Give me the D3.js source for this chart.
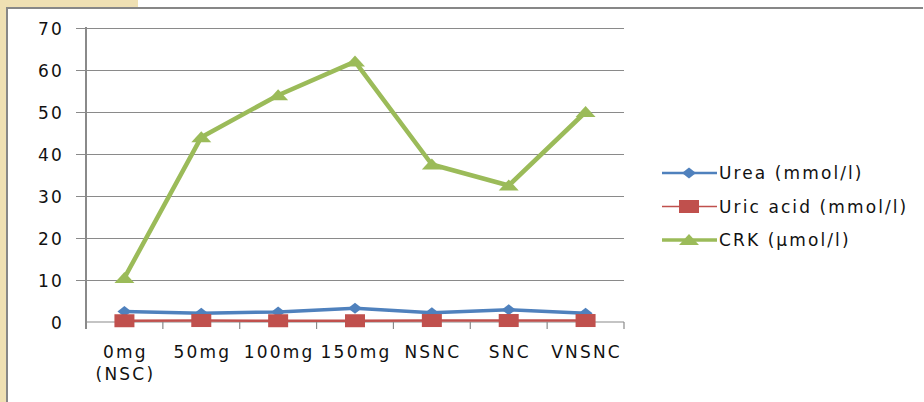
<!DOCTYPE html>
<html>
<head>
<meta charset="utf-8">
<script src="https://cdn.jsdelivr.net/npm/d3@7"></script>
<style>
	body { margin: 0; background: #fff; }
	svg text { font-family: 'DejaVu Sans', sans-serif; fill: #111; }
	.axis-label { font-size: 17px; letter-spacing: 2.2px; }
	.legend-label { font-size: 17px; letter-spacing: 2.1px; }
</style>
</head>
<body>
<div id="chart"></div>
<script>
// Data
var categories = ['0mg|(NSC)', '50mg', '100mg', '150mg', 'NSNC', 'SNC', 'VNSNC'];
var urea = [2.5, 2.1, 2.4, 3.3, 2.2, 2.9, 2.1];
var uricAcid = [0.3, 0.35, 0.3, 0.3, 0.35, 0.35, 0.35];
var crk = [10.5, 44, 54, 62, 37.5, 32.5, 50];
var yTicks = [0, 10, 20, 30, 40, 50, 60, 70];

var series = [
	{ name: 'Urea (mmol/l)', values: urea, color: '#4F81BD', width: 3.5, marker: 'diamond' },
	{ name: 'Uric acid (mmol/l)', values: uricAcid, color: '#C0504D', width: 2.5, marker: 'square' },
	{ name: 'CRK (\u00b5mol/l)', values: crk, color: '#9BBB59', width: 4.5, marker: 'triangle' }
];

var width = 924;
var height = 402;
var plot = { left: 86, right: 624, top: 28, bottom: 322 };

var svg = d3.select('#chart')
	.append('svg')
	.attr('width', width)
	.attr('height', height);

// Slide background bits and frame
svg.append('rect').attr('x', 0).attr('y', 0).attr('width', 7).attr('height', height).attr('fill', '#EFE0B3');
svg.append('rect').attr('x', 0).attr('y', 0).attr('width', 138).attr('height', 7).attr('fill', '#EFE0B3');
svg.append('rect').attr('x', 6).attr('y', 7).attr('width', 917).attr('height', 2).attr('fill', '#878787');
svg.append('rect').attr('x', 6).attr('y', 7).attr('width', 2).attr('height', height - 7).attr('fill', '#878787');

/*
 * Scales
 */
var xScale = d3.scaleBand()
	.domain(categories)
	.range([plot.left, plot.right]);

var yScale = d3.scaleLinear()
	.domain([0, 70])
	.range([plot.bottom, plot.top]);

// gridlines
svg.append('g')
	.attr('class', 'grid')
	.attr('transform', 'translate(' + plot.right + ',0)')
	.call(d3.axisLeft(yScale).tickValues(yTicks.slice(1)).tickSize(plot.right - 76).tickFormat(''))
	.call(function(g) {
		g.select('.domain').remove();
		g.selectAll('line').attr('stroke', '#8A8A8A').attr('stroke-width', 1.2);
	});

// y axis
svg.append('g')
	.attr('class', 'y axis')
	.attr('transform', 'translate(' + plot.left + ',0)')
	.call(d3.axisLeft(yScale).tickValues(yTicks).tickSize(0).tickPadding(22))
	.call(function(g) {
		g.select('.domain').remove();
		g.selectAll('text').attr('class', 'axis-label').attr('font-family', null).attr('font-size', null).attr('dy', '0.36em');
	});

svg.append('line')
	.attr('x1', plot.left).attr('x2', plot.left)
	.attr('y1', plot.top - 1).attr('y2', plot.bottom + 7)
	.attr('stroke', '#8A8A8A').attr('stroke-width', 2);

// x axis
svg.append('line')
	.attr('x1', plot.left).attr('x2', plot.right)
	.attr('y1', plot.bottom).attr('y2', plot.bottom)
	.attr('stroke', '#8A8A8A').attr('stroke-width', 1.2);

var edges = categories.map(function(c) { return xScale(c); }).concat([plot.right]);
svg.append('g')
	.selectAll('line')
	.data(edges.slice(1))
	.enter()
	.append('line')
	.attr('x1', function(d) { return d; })
	.attr('x2', function(d) { return d; })
	.attr('y1', plot.bottom)
	.attr('y2', plot.bottom + 7)
	.attr('stroke', '#8A8A8A')
	.attr('stroke-width', 1.2);

var xLabels = svg.append('g')
	.selectAll('text')
	.data(categories)
	.enter()
	.append('text')
	.attr('class', 'axis-label')
	.attr('text-anchor', 'middle')
	.attr('x', function(d) { return xScale(d) + xScale.bandwidth() / 2 + 1; })
	.attr('y', 358);

xLabels.each(function(d) {
	var parts = d.split('|');
	var el = d3.select(this);
	parts.forEach(function(p, i) {
		el.append('tspan')
			.attr('x', el.attr('x'))
			.attr('dy', i === 0 ? 0 : 22)
			.text(p);
	});
});

/*
 * Markers
 */
var drawMarker = function(sel, type, color) {
	if (type === 'diamond') {
		sel.append('path').attr('d', 'M-7,0L0,-5.5L7,0L0,5.5Z').attr('fill', color);
	} else if (type === 'square') {
		sel.append('rect').attr('x', -10).attr('y', -6.5).attr('width', 20).attr('height', 13).attr('fill', color);
	} else {
		sel.append('path').attr('d', 'M-10,5L0,-6L10,5Z').attr('fill', color);
	}
};

var line = d3.line()
	.x(function(d, i) { return xScale(categories[i]) + xScale.bandwidth() / 2; })
	.y(function(d) { return yScale(d); });

series.forEach(function(s) {
	var g = svg.append('g').attr('class', 'series');
	g.append('path')
		.attr('d', line(s.values))
		.attr('fill', 'none')
		.attr('stroke', s.color)
		.attr('stroke-width', s.width)
		.attr('stroke-linejoin', 'round');

	g.selectAll('g.marker')
		.data(s.values)
		.enter()
		.append('g')
		.attr('class', 'marker')
		.attr('transform', function(d, i) {
			return 'translate(' + (xScale(categories[i]) + xScale.bandwidth() / 2) + ',' + yScale(d) + ')';
		})
		.each(function() { drawMarker(d3.select(this), s.marker, s.color); });
});

/*
 * Legend
 */
var legend = svg.append('g')
	.selectAll('g')
	.data(series)
	.enter()
	.append('g')
	.attr('transform', function(d, i) { return 'translate(662,' + (173 + i * 33.5) + ')'; });

legend.append('line')
	.attr('x1', 0).attr('x2', 55)
	.attr('stroke', function(d) { return d.color; })
	.attr('stroke-width', function(d) { return d.width - 1; });

legend.each(function(d) {
	var m = d3.select(this).append('g').attr('transform', 'translate(27,0)');
	drawMarker(m, d.marker, d.color);
});

legend.append('text')
	.attr('class', 'legend-label')
	.attr('x', 57)
	.attr('dy', '0.36em')
	.text(function(d) { return d.name; });
</script>
</body>
</html>
